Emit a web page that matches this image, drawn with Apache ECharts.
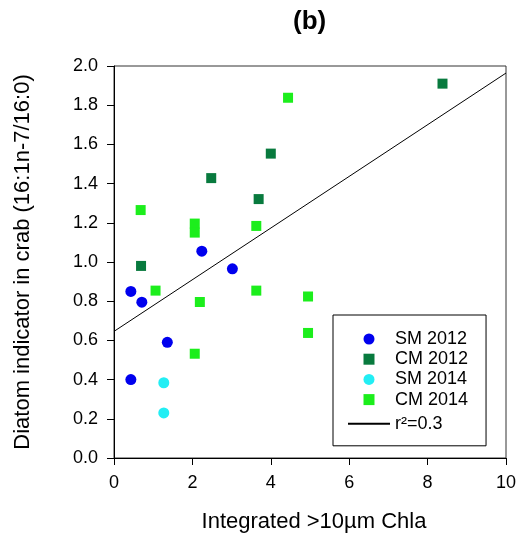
<!DOCTYPE html>
<html>
<head>
<meta charset="utf-8">
<script src="https://cdn.jsdelivr.net/npm/echarts@6/dist/echarts.min.js"></script>
<style>
  html, body { margin: 0; padding: 0; background: #fff; }
  #chart { width: 522px; height: 543px; }
</style>
</head>
<body>
<div id="chart"></div>
<script>
// Integrated >10µm Chla (x) vs diatom indicator in crab (y)
const sm2012X = [2.24, 3.02, 0.43, 0.71, 1.36, 0.43];
const sm2012Y = [1.055, 0.965, 0.85, 0.795, 0.59, 0.40];

const cm2012X = [8.38, 4.00, 2.48, 3.69, 0.69];
const cm2012Y = [1.91, 1.553, 1.428, 1.321, 0.98];

const sm2014X = [1.27, 1.27];
const sm2014Y = [0.384, 0.23];

const cm2014X = [4.44, 0.68, 2.06, 2.06, 3.63, 1.06, 2.19, 3.63, 2.06, 4.95, 4.95];
const cm2014Y = [1.838, 1.265, 1.196, 1.150, 1.184, 0.854, 0.796, 0.854, 0.532, 0.824, 0.638];

// Linear regression over all points (r² = 0.3)
const fitIntercept = 0.646;
const fitSlope = 0.1318;
const fitRange = [0, 10];
const fitName = 'r²=0.3';

const xTicks = { min: 0, max: 10, interval: 2 };
const yTicks = { min: 0, max: 2, interval: 0.2 };

const FONT = "'Liberation Sans', Arial, sans-serif";
const SQUARE = 'path://M0,0L10,0L10,10L0,10Z';

function pairs(xs, ys) { return xs.map((x, i) => [x, ys[i]]); }

const chart = echarts.init(document.getElementById('chart'), null, { renderer: 'canvas' });

const axisCommon = {
  axisLine: { show: true, onZero: false, lineStyle: { color: '#000', width: 1 } },
  axisTick: { show: true, inside: false, length: 7, lineStyle: { color: '#000', width: 1 } },
  splitLine: { show: false },
};

chart.setOption({
  animation: false,
  backgroundColor: '#fff',
  title: {
    text: '(b)',
    left: 288,
    top: 4,
    textStyle: { fontFamily: FONT, fontSize: 26, fontWeight: 'bold', color: '#000' }
  },
  grid: {
    left: 114, right: 16, top: 66, bottom: 85,
    show: true, borderColor: '#333', borderWidth: 1, backgroundColor: 'transparent'
  },
  xAxis: Object.assign({}, axisCommon, {
    type: 'value',
    min: xTicks.min, max: xTicks.max, interval: xTicks.interval,
    name: 'Integrated >10µm Chla',
    nameLocation: 'middle',
    nameGap: 53,
    nameTextStyle: { color: '#000', fontFamily: FONT, fontSize: 22, padding: [0, 0, 0, 8] },
    axisLabel: { color: '#000', fontFamily: FONT, fontSize: 18, margin: 16 }
  }),
  yAxis: Object.assign({}, axisCommon, {
    type: 'value',
    min: yTicks.min, max: yTicks.max, interval: yTicks.interval,
    name: 'Diatom indicator in crab (16:1n-7/16:0)',
    nameLocation: 'middle',
    nameGap: 80,
    nameTextStyle: { color: '#000', fontFamily: FONT, fontSize: 22 },
    axisLabel: {
      color: '#000', fontFamily: FONT, fontSize: 18, margin: 16,
      formatter: v => v.toFixed(1)
    }
  }),
  legend: {
    orient: 'vertical',
    left: 333,
    top: 315,
    padding: [15, 18, 9, 14],
    borderColor: '#000',
    borderWidth: 1,
    backgroundColor: '#fff',
    itemWidth: 42,
    itemHeight: 11,
    itemGap: 2.2,
    itemTextGap: 12,
    formatter: name => name === fitName ? '{fit|' + name + '}' : name,
    textStyle: {
      color: '#000', fontFamily: FONT, fontSize: 18, lineHeight: 18,
      rich: { fit: { fontFamily: FONT, fontSize: 18, lineHeight: 26, color: '#000' } }
    },
    data: [
      { name: 'SM 2012', icon: 'circle' },
      { name: 'CM 2012', icon: SQUARE },
      { name: 'SM 2014', icon: 'circle' },
      { name: 'CM 2014', icon: SQUARE },
      { name: fitName, itemStyle: { color: 'rgba(0,0,0,0)', borderWidth: 0 } }
    ]
  },
  series: [
    {
      name: fitName,
      type: 'line',
      symbol: 'none',
      showSymbol: false,
      z: 1,
      lineStyle: { color: '#000', width: 1 },
      itemStyle: { color: '#000' },
      data: fitRange.map(x => [x, fitIntercept + fitSlope * x])
    },
    {
      name: 'SM 2012', type: 'scatter', symbol: 'circle', symbolSize: 11, z: 3,
      itemStyle: { color: '#0000ee', opacity: 1 },
      data: pairs(sm2012X, sm2012Y)
    },
    {
      name: 'CM 2012', type: 'scatter', symbol: 'rect', symbolSize: 10, z: 3,
      itemStyle: { color: '#087a3e', opacity: 1 },
      data: pairs(cm2012X, cm2012Y)
    },
    {
      name: 'SM 2014', type: 'scatter', symbol: 'circle', symbolSize: 11, z: 3,
      itemStyle: { color: '#22eef4', opacity: 1 },
      data: pairs(sm2014X, sm2014Y)
    },
    {
      name: 'CM 2014', type: 'scatter', symbol: 'rect', symbolSize: 10, z: 3,
      itemStyle: { color: '#1cee1c', opacity: 1 },
      data: pairs(cm2014X, cm2014Y)
    }
  ]
});
</script>
</body>
</html>
